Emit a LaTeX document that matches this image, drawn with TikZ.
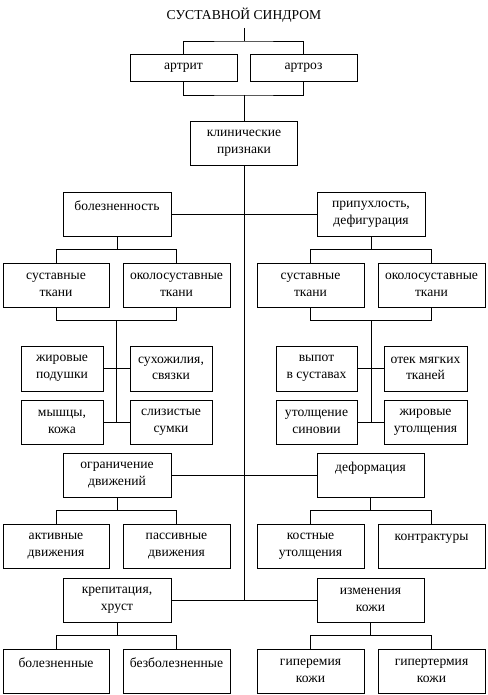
\documentclass[tikz,border=0pt]{standalone}
\usepackage{fontspec}
\setmainfont{Liberation Serif}
\usetikzlibrary{calc}
\newcommand\myfork[3]{%
  \coordinate (m) at ($(#1.south)!.5!(#1.south |- #2.north)$);
  \draw (#1.south) -- (m) (#2.north) |- (m) -| (#3.north);}
\newcommand\myjoin[6]{%
  \coordinate (k) at ($($(#1.south)!.5!(#2.south)$)+(0,13)$);
  \draw (#1.south) |- (k) -| (#2.south);
  \draw (k) -- (k |- #5.east);
  \draw (#3.east) -- (#4.west);
  \draw (#5.east) -- (#6.west);}
\begin{document}
\begin{tikzpicture}[x=1pt,y=-1pt,line width=0.9pt,
  txt/.style={align=center,inner sep=0pt,font=\fontsize{13.6}{16.7}\selectfont},
  box/.style={txt,draw,fill=white},
  sz/.style 2 args={minimum width=#1pt,minimum height=#2pt}]
\useasboundingbox (0,0) rectangle (487,695);
% top
\node[txt] (title) at (244,15) {СУСТАВНОЙ СИНДРОМ};
\coordinate (t0) at (244,28);
\coordinate (j0) at (244,41);
\coordinate (j1) at (244,95);
\node[box,sz={107}{27}] (artrit) at (183.5,67.5) {артрит};
\node[box,sz={107}{27}] (artroz) at (303.5,67.5) {артроз};
\node[box,sz={107}{44}] (klin) at (244,143) {клинические\\признаки};
% left column
\node[box,sz={108}{44}] (bol) at (117,214) {болезненность\\\mbox{}};
\node[box,sz={106}{44}] (sust1) at (56,285) {суставные\\ткани};
\node[box,sz={107}{44}] (okolo1) at (176.5,285) {околосуставные\\ткани};
\node[box,sz={82}{45}] (zhir) at (62,368.5) {жировые\\подушки};
\node[box,sz={82}{45}] (sukh) at (171,368.5) {сухожилия,\\связки};
\node[box,sz={82}{44}] (mysh) at (62,422) {мышцы,\\кожа};
\node[box,sz={82}{44}] (sliz) at (171,422) {слизистые\\сумки};
\node[box,sz={108}{44}] (ogr) at (117,475) {ограничение\\движений};
\node[box,sz={106}{44}] (akt) at (56,546) {активные\\движения};
\node[box,sz={107}{44}] (pass) at (176.5,546) {пассивные\\движения};
\node[box,sz={108}{44}] (krep) at (117,600) {крепитация,\\хруст};
\node[box,sz={106}{44}] (bolezn) at (56,671) {болезненные\\\mbox{}};
\node[box,sz={107}{44}] (bezbol) at (176.5,671) {безболезненные\\\mbox{}};
% right column
\node[box,sz={108}{44}] (pripu) at (371,214) {припухлость,\\дефигурация};
\node[box,sz={107}{44}] (sust2) at (310.5,285) {суставные\\ткани};
\node[box,sz={107}{44}] (okolo2) at (431.5,285) {околосуставные\\ткани};
\node[box,sz={81}{45}] (vypot) at (316.5,368.5) {выпот\\в суставах};
\node[box,sz={83}{45}] (otek) at (425.5,368.5) {отек мягких\\тканей};
\node[box,sz={81}{44}] (utol) at (316.5,422) {утолщение\\синовии};
\node[box,sz={83}{44}] (zhirut) at (425.5,422) {жировые\\утолщения};
\node[box,sz={107}{44}] (deform) at (370.5,475) {деформация\\\mbox{}};
\node[box,sz={107}{44}] (kost) at (310.5,546) {костные\\утолщения};
\node[box,sz={107}{44}] (kontr) at (431.5,546) {контрактуры\\\mbox{}};
\node[box,sz={107}{44}] (izm) at (370.5,600) {изменения\\кожи};
\node[box,sz={107}{44}] (giper) at (310.5,671) {гиперемия\\кожи};
\node[box,sz={107}{44}] (giperterm) at (431.5,671) {гипертермия\\кожи};
% connectors top
\draw (t0) -- (j0);
\draw (artrit.north) |- (j0) -| (artroz.north);
\draw (artrit.south) |- (j1) -| (artroz.south);
\draw (j1) -- (klin.north);
\draw (klin.south) -- (klin.south |- krep.east);
\draw (bol.east) -- (pripu.west);
\draw (ogr.east) -- (deform.west);
\draw (krep.east) -- (izm.west);
% forks
\myfork{bol}{sust1}{okolo1}
\myfork{pripu}{sust2}{okolo2}
\myfork{ogr}{akt}{pass}
\myfork{deform}{kost}{kontr}
\myfork{krep}{bolezn}{bezbol}
\myfork{izm}{giper}{giperterm}
\myjoin{sust1}{okolo1}{zhir}{sukh}{mysh}{sliz}
\myjoin{sust2}{okolo2}{vypot}{otek}{utol}{zhirut}
\end{tikzpicture}
\end{document}
